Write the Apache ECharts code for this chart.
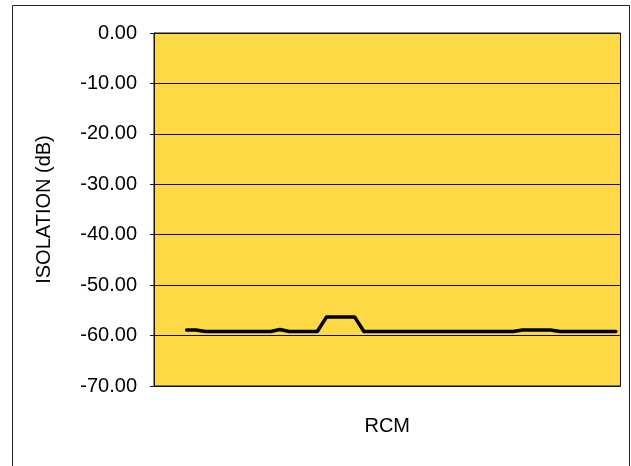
<!DOCTYPE html>
<html>
<head>
<meta charset="utf-8">
<script src="https://cdn.jsdelivr.net/npm/echarts@6/dist/echarts.min.js"></script>
<style>html,body{margin:0;padding:0;background:#fff}#c{width:631px;height:466px}</style>
</head>
<body>
<div id="c"></div>
<script>
// Categories: 50 slots, the first three are empty in the source data
const categories = Array.from({length: 50}, (_, i) => String(i + 1));
const isolation = [
  null, null, null,
  -58.9, -58.9, -59.2, -59.2, -59.2, -59.2, -59.2, -59.2, -59.2, -59.2,
  -58.8, -59.2, -59.2, -59.2, -59.2, -56.3, -56.3, -56.3, -56.3, -59.2,
  -59.2, -59.2, -59.2, -59.2, -59.2, -59.2, -59.2, -59.2, -59.2, -59.2,
  -59.2, -59.2, -59.2, -59.2, -59.2, -59.2, -58.9, -58.9, -58.9, -58.9,
  -59.2, -59.2, -59.2, -59.2, -59.2, -59.2, -59.2
];
const yMin = -70, yMax = 0, yStep = 10;
const yTitle = 'ISOLATION (dB)';
const xTitle = 'RCM';

const chart = echarts.init(document.getElementById('c'));
const font = 'Arial, "Liberation Sans", sans-serif';
chart.setOption({
  animation: false,
  backgroundColor: '#fff',
  graphic: [{
    type: 'rect', silent: true, z: -1,
    shape: {x: 12.5, y: 5.5, width: 617, height: 470},
    style: {fill: 'none', stroke: '#222', lineWidth: 1}
  }],
  grid: {left: 154, right: 10.5, top: 33, bottom: 80, show: true,
         backgroundColor: '#FDD945', borderColor: '#111', borderWidth: 1},
  xAxis: {
    type: 'category', data: categories, boundaryGap: true,
    name: xTitle, nameLocation: 'middle', nameGap: 30,
    nameTextStyle: {fontFamily: font, fontSize: 20, color: '#000'},
    axisLine: {lineStyle: {color: '#111', width: 1}},
    axisTick: {show: false}, axisLabel: {show: false}, splitLine: {show: false}
  },
  yAxis: {
    type: 'value', min: yMin, max: yMax, interval: yStep,
    name: yTitle, nameLocation: 'middle', nameGap: 100, nameRotate: 90,
    nameTextStyle: {fontFamily: font, fontSize: 20, color: '#000'},
    axisLine: {show: true, lineStyle: {color: '#111', width: 1}},
    axisTick: {show: true, length: 4, lineStyle: {color: '#111'}},
    axisLabel: {margin: 17, fontFamily: font, fontSize: 20, color: '#000',
                formatter: v => v.toFixed(2)},
    splitLine: {show: true, lineStyle: {color: '#111', width: 1}}
  },
  series: [{
    type: 'line', data: isolation, showSymbol: false, symbol: 'none',
    connectNulls: false,
    lineStyle: {color: '#000', width: 3.5, cap: 'round', join: 'round'}
  }]
});
</script>
</body>
</html>
